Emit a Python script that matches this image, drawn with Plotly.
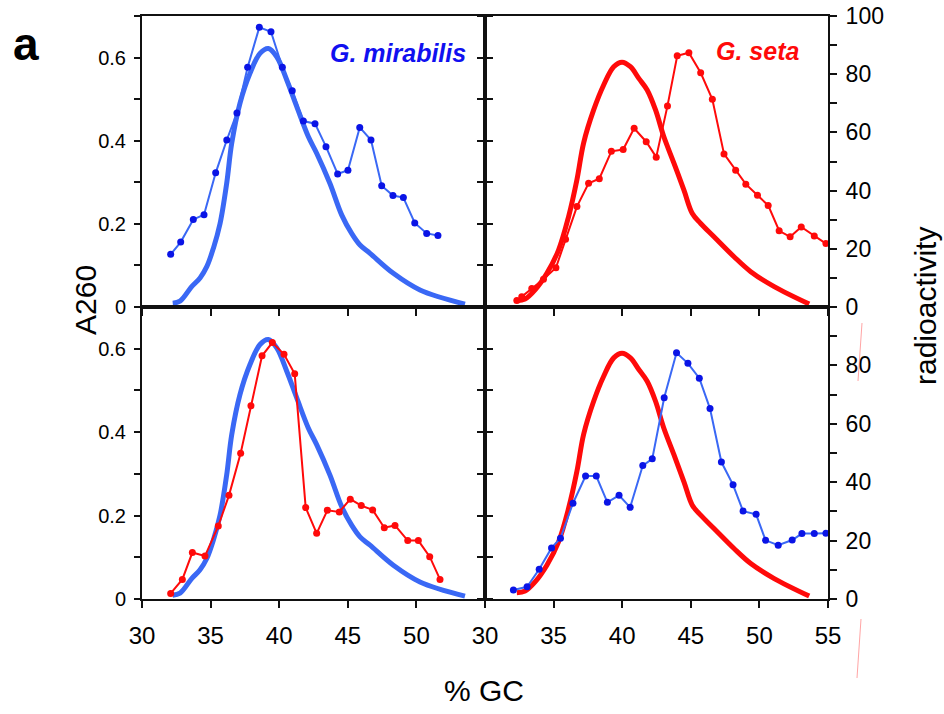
import plotly.graph_objects as go

# ---- data -----------------------------------------------------------------
# A260 profiles (optical density) across the CsCl gradient, by % GC
mir_a260_gc = [32.24, 32.77, 33.62, 34.23, 34.72, 35.20, 35.69, 36.17, 36.54, 37.14,
               37.87, 38.60, 39.21, 39.82, 40.55, 41.28, 42.12, 42.73, 43.70, 44.56,
               45.28, 45.89, 46.62, 48.32, 50.26, 53.54]
mir_a260 = [0.009, 0.014, 0.049, 0.070, 0.097, 0.141, 0.201, 0.297, 0.394, 0.490,
            0.562, 0.610, 0.622, 0.602, 0.546, 0.482, 0.410, 0.370, 0.297, 0.221,
            0.177, 0.149, 0.129, 0.081, 0.041, 0.007]

seta_a260_gc = [32.32, 32.92, 33.65, 34.51, 35.36, 36.09, 36.70, 37.19, 37.92, 38.65,
                39.38, 39.99, 40.60, 41.21, 41.82, 42.43, 43.03, 43.77, 44.50, 45.11,
                45.72, 46.69, 48.15, 49.37, 51.08, 53.63]
seta_a260 = [0.015, 0.019, 0.041, 0.081, 0.137, 0.217, 0.306, 0.395, 0.474, 0.534,
             0.578, 0.589, 0.578, 0.550, 0.522, 0.474, 0.410, 0.346, 0.281, 0.225,
             0.201, 0.169, 0.121, 0.085, 0.049, 0.007]

# radioactivity of gradient fractions
mir_rad_gc = [32.09, 32.82, 33.74, 34.52, 35.37, 36.18, 36.92, 37.70, 38.55, 39.40,
              40.23, 40.95, 41.76, 42.61, 43.41, 44.26, 45.01, 45.87, 46.69, 47.47,
              48.29, 49.05, 49.88, 50.75, 51.57]
mir_rad = [18.1, 22.3, 30.1, 31.7, 46.1, 57.4, 66.7, 82.4, 96.1, 94.6,
           82.4, 74.3, 63.9, 63.0, 55.1, 45.7, 47.0, 61.7, 57.4, 41.7,
           38.3, 37.6, 28.9, 25.3, 24.6]

seta_rad_gc = [32.32, 32.68, 33.41, 34.26, 35.17, 35.87, 36.70, 37.55, 38.33, 39.21,
               40.07, 40.87, 41.75, 42.48, 43.30, 44.01, 44.86, 45.72, 46.57, 47.42,
               48.27, 49.01, 49.86, 50.64, 51.44, 52.24, 53.05, 54.00, 54.85]
seta_rad = [2.2, 3.5, 6.4, 9.5, 13.5, 23.3, 34.5, 42.5, 44.1, 53.5,
            54.1, 61.4, 56.8, 51.5, 69.1, 86.3, 87.4, 80.5, 71.4, 52.6,
            47.0, 42.2, 38.4, 34.9, 26.2, 24.1, 27.5, 24.4, 21.8]

# label from the G. seta fractions run on the G. mirabilis gradient
seta_on_mir_gc = [32.09, 32.94, 33.67, 34.59, 35.56, 36.34, 37.19, 37.94, 38.75, 39.50,
                  40.35, 41.13, 41.93, 42.73, 43.51, 44.38, 45.18, 45.98, 46.81, 47.66,
                  48.44, 49.37, 50.14, 50.97, 51.72]
seta_on_mir_rad = [1.9, 6.7, 15.9, 14.7, 25.0, 35.5, 49.9, 66.2, 83.3, 87.8,
                   83.8, 77.1, 31.3, 22.5, 30.4, 29.8, 34.2, 32.0, 30.5, 24.4,
                   25.2, 20.0, 20.0, 14.5, 6.7]

# label from the G. mirabilis fractions run on the G. seta gradient
mir_on_seta_gc = [32.07, 33.07, 33.95, 34.85, 35.50, 36.41, 37.33, 38.11, 38.92, 39.77,
                  40.58, 41.50, 42.19, 43.06, 43.96, 44.79, 45.62, 46.40, 47.23, 48.08,
                  48.81, 49.76, 50.45, 51.37, 52.39, 53.10, 54.00, 54.85]
mir_on_seta_rad = [3.1, 4.2, 10.2, 17.5, 20.8, 32.8, 42.1, 42.1, 33.1, 35.5,
                   31.4, 45.7, 48.0, 68.9, 84.3, 80.7, 75.6, 65.2, 46.9, 39.1,
                   30.1, 29.0, 20.1, 18.4, 20.2, 22.4, 22.4, 22.5]

gc_ticks = [30, 35, 40, 45, 50, 55]
a260_ticks = [0, 0.1, 0.2, 0.3, 0.4, 0.5, 0.6, 0.7]
rad_ticks = [0, 10, 20, 30, 40, 50, 60, 70, 80, 90, 100]

# ---- styling ----------------------------------------------------------------
FONT = "Arial, Liberation Sans, Helvetica, sans-serif"
BLUE_THICK = "#3a68f5"
BLUE_THIN = "#3a68f5"
BLUE_DOT = "#0a14e6"
RED = "#ff0a0a"
AX = "#111111"

W, H = 944, 714
# panel edges in pixels
XL0, XMID, XR1 = 142, 485, 828
YT0, YMID, YB1 = 16, 307, 599


def px(x):
    return x / W


def py(y):
    return 1 - y / H


left_dom = [px(XL0), px(XMID)]
right_dom = [px(XMID), px(XR1)]
top_dom = [py(YMID), py(YT0)]
bot_dom = [py(YB1), py(YMID)]

fig = go.Figure()


def thick(x, y, color, xa, ya):
    fig.add_trace(go.Scatter(x=x, y=y, mode="lines", xaxis=xa, yaxis=ya,
                             line=dict(color=color, width=5, shape="spline", smoothing=1.0),
                             hoverinfo="skip"))


def dotted(x, y, lcolor, mcolor, xa, ya):
    fig.add_trace(go.Scatter(x=x, y=y, mode="lines+markers", xaxis=xa, yaxis=ya,
                             line=dict(color=lcolor, width=2),
                             marker=dict(color=mcolor, size=7),
                             hoverinfo="skip"))


# top-left: G. mirabilis
thick(mir_a260_gc, mir_a260, BLUE_THICK, "x", "y")
dotted(mir_rad_gc, mir_rad, BLUE_THIN, BLUE_DOT, "x", "y5")
# top-right: G. seta
thick(seta_a260_gc, seta_a260, RED, "x2", "y2")
dotted(seta_rad_gc, seta_rad, RED, RED, "x2", "y6")
# bottom-left: G. mirabilis gradient with G. seta label
thick(mir_a260_gc, mir_a260, BLUE_THICK, "x3", "y3")
dotted(seta_on_mir_gc, seta_on_mir_rad, RED, RED, "x3", "y7")
# bottom-right: G. seta gradient with G. mirabilis label
thick(seta_a260_gc, seta_a260, RED, "x4", "y4")
dotted(mir_on_seta_gc, mir_on_seta_rad, BLUE_THIN, BLUE_DOT, "x4", "y8")

common_axis = dict(showline=True, linecolor=AX, linewidth=2, showgrid=False,
                   zeroline=False, tickcolor=AX, tickwidth=1.5, ticks="outside",
                   fixedrange=True, automargin=False)


def xaxis(dom, anchor, labels, hide_last):
    text = [str(v) for v in gc_ticks]
    if hide_last:
        text[-1] = ""
    return dict(common_axis, domain=dom, anchor=anchor, range=[30, 55],
                tickmode="array", tickvals=gc_ticks, ticktext=text,
                ticklen=7, mirror=True, showticklabels=labels,
                tickfont=dict(family=FONT, size=24, color="#000"),
                ticklabelstandoff=7)


def a260_axis(dom, anchor, labels, mirror):
    text = ["0" if v == 0 else ("%.1f" % v if round(v * 10) % 2 == 0 and v < 0.7 else "")
            for v in a260_ticks]
    return dict(common_axis, domain=dom, anchor=anchor, range=[0, 0.7],
                tickmode="array", tickvals=a260_ticks, ticktext=text,
                ticklen=6, mirror=mirror, showticklabels=labels,
                tickfont=dict(family=FONT, size=20, color="#000"),
                ticklabelstandoff=4)


def rad_axis(over, anchor, show_top):
    text = [str(v) if v % 20 == 0 else "" for v in rad_ticks]
    if not show_top:
        text[-1] = ""
    return dict(common_axis, overlaying=over, anchor=anchor, side="right",
                range=[0, 100], tickmode="array", tickvals=rad_ticks, ticktext=text,
                ticklen=7, tickfont=dict(family=FONT, size=23, color="#000"),
                ticklabelstandoff=4)


hidden_rad = lambda over, anchor: dict(overlaying=over, anchor=anchor, range=[0, 100],
                                       visible=False, fixedrange=True, automargin=False)

fig.update_layout(
    width=W, height=H, margin=dict(l=0, r=0, t=0, b=0, autoexpand=False),
    paper_bgcolor="white", plot_bgcolor="white", showlegend=False,
    font=dict(family=FONT, color="#000"),
    xaxis=xaxis(left_dom, "y", False, True),
    xaxis2=xaxis(right_dom, "y2", False, False),
    xaxis3=xaxis(left_dom, "y3", True, True),
    xaxis4=xaxis(right_dom, "y4", True, False),
    yaxis=a260_axis(top_dom, "x", True, "ticks"),
    yaxis2=a260_axis(top_dom, "x2", False, False),
    yaxis3=a260_axis(bot_dom, "x3", True, "ticks"),
    yaxis4=a260_axis(bot_dom, "x4", False, False),
    yaxis5=hidden_rad("y", "x"),
    yaxis6=rad_axis("y2", "x2", True),
    yaxis7=hidden_rad("y3", "x3"),
    yaxis8=rad_axis("y4", "x4", False),
)

# panel letter, axis titles and species names
annotations = [
    dict(text="<b>a</b>", x=px(11), y=py(44), xanchor="left", yanchor="middle",
         font=dict(size=46, family=FONT, color="#000")),
    dict(text="A260", x=px(85), y=py(300), textangle=-90, xanchor="center",
         yanchor="middle", font=dict(size=30, family=FONT, color="#000")),
    dict(text="radioactivity", x=px(925), y=py(306), textangle=-90, xanchor="center",
         yanchor="middle", font=dict(size=30, family=FONT, color="#000")),
    dict(text="% GC", x=px(484), y=py(690), xanchor="center", yanchor="middle",
         font=dict(size=30, family=FONT, color="#000")),
    dict(text="<b><i>G. mirabilis</i></b>", x=px(468), y=py(53), xanchor="right",
         yanchor="middle", font=dict(size=25, family=FONT, color="#1010f0")),
    dict(text="<b><i>G. seta</i></b>", x=px(801), y=py(51), xanchor="right",
         yanchor="middle", font=dict(size=25, family=FONT, color=RED)),
]
for a in annotations:
    a.update(xref="paper", yref="paper", showarrow=False)
fig.update_layout(annotations=annotations)

# faint stray strokes beside the right-hand axis
for (x0, y0, x1, y1) in [(862, 323, 858, 381), (861, 619, 857, 678)]:
    fig.add_shape(type="line", xref="paper", yref="paper",
                  x0=px(x0), y0=py(y0), x1=px(x1), y1=py(y1),
                  line=dict(color="rgba(255,90,90,0.55)", width=1))

fig.write_html("out.html")
